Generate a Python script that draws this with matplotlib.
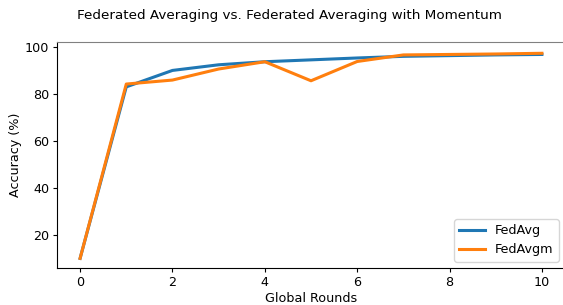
import matplotlib
matplotlib.use("Agg")
import matplotlib.pyplot as plt

rounds = [0, 1, 2, 3, 4, 5, 6, 7, 8, 9, 10]
fedavg = [10.0, 83.0, 90.0, 92.4, 93.7, 94.5, 95.3, 96.0, 96.3, 96.6, 96.8]
fedavgm = [10.0, 84.2, 85.9, 90.6, 93.7, 85.6, 93.8, 96.6, 96.8, 97.0, 97.3]

plt.rcParams['font.size'] = 9.2

fig = plt.figure(figsize=(5.63, 3.05), dpi=100)
ax = fig.add_axes([57/563, 1 - 268/305, (565 - 57)/563, (268 - 42)/305])

ax.plot(rounds, fedavg, label='FedAvg', linewidth=2.2)
ax.plot(rounds, fedavgm, label='FedAvgm', linewidth=2.2)

ax.set_xlim(-0.5, 10.5)
ax.set_ylim(5.9, 102.1)
ax.set_xticks([0, 2, 4, 6, 8, 10])
ax.set_yticks([20, 40, 60, 80, 100])
ax.tick_params(length=3, pad=2.5)
ax.set_xlabel('Global Rounds')
ax.set_ylabel('Accuracy (%)')
ax.xaxis.set_label_coords(0.5, -0.105)
ax.yaxis.set_label_coords(-0.068, 0.5)
ax.spines['right'].set_visible(False)
ax.spines['top'].set_color('gray')
ax.legend(loc='lower right')

fig.text(289/563, 1 - 16/305, 'Federated Averaging vs. Federated Averaging with Momentum',
         ha='center', va='center', fontsize=9.7)

fig.savefig('out.png', dpi=100)
